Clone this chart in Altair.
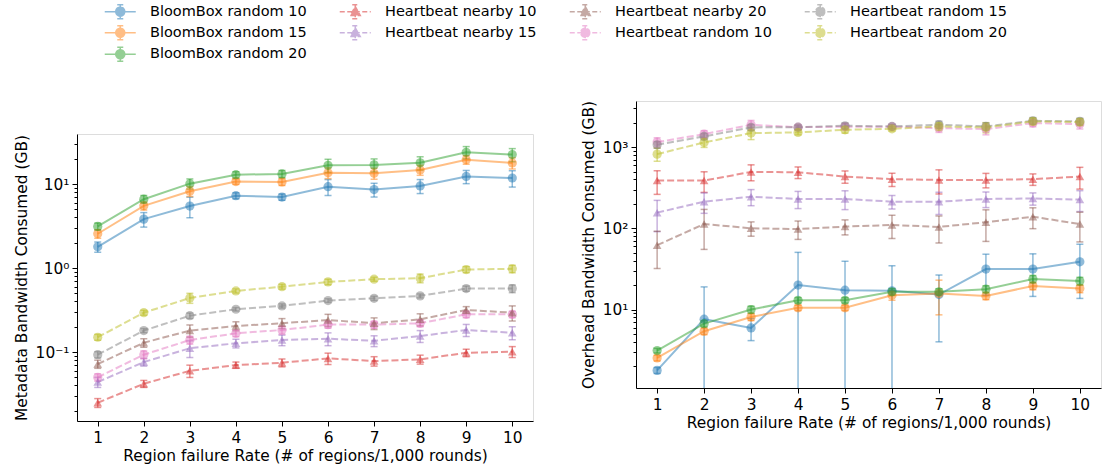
import altair as alt
import pandas as pd

# ---------------- data ----------------
series_names = ["BloomBox random 10", "BloomBox random 15", "BloomBox random 20",
                "Heartbeat nearby 10", "Heartbeat nearby 15", "Heartbeat nearby 20",
                "Heartbeat random 10", "Heartbeat random 15", "Heartbeat random 20"]
series_colors = ["#1f77b4", "#ff7f0e", "#2ca02c", "#d62728", "#9467bd", "#8c564b",
                 "#e377c2", "#7f7f7f", "#bcbd22"]
failure_rates = [1, 2, 3, 4, 5, 6, 7, 8, 9, 10]

meta_bb10 = [1.79, 3.82, 5.47, 7.26, 7.0, 9.3, 8.6, 9.5, 12.3, 11.8]
meta_bb15 = [2.56, 5.5, 8.2, 10.7, 10.6, 13.6, 13.4, 14.7, 19.5, 17.8]
meta_bb20 = [3.13, 6.6, 10.1, 12.9, 13.2, 16.7, 16.9, 17.9, 23.9, 22.4]
meta_hn10 = [0.0249, 0.0419, 0.0598, 0.070, 0.0746, 0.084, 0.078, 0.0818, 0.098, 0.101]
meta_hn15 = [0.0439, 0.076, 0.111, 0.127, 0.139, 0.144, 0.136, 0.155, 0.183, 0.170]
meta_hn20 = [0.072, 0.129, 0.180, 0.204, 0.220, 0.241, 0.220, 0.245, 0.317, 0.294]
meta_hr10 = [0.050, 0.093, 0.139, 0.167, 0.183, 0.212, 0.212, 0.220, 0.281, 0.281]
meta_hr15 = [0.093, 0.180, 0.271, 0.323, 0.354, 0.410, 0.436, 0.466, 0.569, 0.569]
meta_hr20 = [0.150, 0.294, 0.440, 0.534, 0.600, 0.684, 0.736, 0.757, 0.960, 0.978]

meta_err_bb10 = [0.25, 0.75, 1.5, 0.6, 0.6, 2.0, 1.6, 1.8, 2.2, 2.6]
meta_err_bb15 = [0.3, 0.6, 1.1, 0.8, 1.0, 2.0, 2.0, 2.0, 2.3, 2.7]
meta_err_bb20 = [0.3, 0.7, 1.4, 1.1, 1.3, 3.0, 3.0, 3.2, 4.0, 4.0]
meta_err_hn10 = [0.003, 0.004, 0.010, 0.006, 0.008, 0.013, 0.010, 0.010, 0.010, 0.015]
meta_err_hn15 = [0.006, 0.008, 0.025, 0.015, 0.020, 0.025, 0.020, 0.025, 0.030, 0.030]
meta_err_hn20 = [0.008, 0.015, 0.030, 0.025, 0.030, 0.040, 0.035, 0.040, 0.030, 0.060]
meta_err_hr10 = [0.005, 0.010, 0.015, 0.015, 0.020, 0.020, 0.020, 0.020, 0.025, 0.025]
meta_err_hr15 = [0.008, 0.010, 0.020, 0.015, 0.020, 0.020, 0.025, 0.025, 0.040, 0.060]
meta_err_hr20 = [0.012, 0.020, 0.060, 0.030, 0.040, 0.050, 0.040, 0.090, 0.080, 0.100]

over_bb10 = [1.78, 7.6, 5.94, 20.0, 17.3, 17.0, 15.3, 31.5, 31.5, 38.7]
over_bb15 = [2.53, 5.4, 8.1, 10.5, 10.5, 15.0, 15.8, 14.7, 19.5, 18.1]
over_bb20 = [3.12, 6.7, 10.0, 13.0, 13.0, 16.5, 16.5, 17.8, 23.7, 22.4]
over_hn10 = [387, 387, 495, 490, 434, 403, 395, 395, 403, 434]
over_hn15 = [156, 213, 245, 230, 230, 213, 213, 230, 233, 226]
over_hn20 = [62, 113, 100, 98, 105, 110, 104, 119, 139, 113]
over_hr10 = [1153, 1446, 1883, 1760, 1785, 1785, 1717, 1668, 1978, 1923]
over_hr15 = [1069, 1354, 1750, 1760, 1833, 1800, 1888, 1800, 2113, 2075]
over_hr20 = [820, 1142, 1489, 1517, 1636, 1683, 1800, 1750, 2075, 2037]

over_err_bb10 = [0.15, 11.4, 1.8, 30.6, 22.0, 17.5, 11.3, 16.5, 17.0, 25.0]
over_err_bb15 = [0.2, 0.5, 0.8, 0.8, 0.8, 2.0, 7.2, 1.5, 2.0, 2.0]
over_err_bb20 = [0.2, 0.6, 1.0, 1.0, 1.0, 1.5, 1.5, 1.8, 2.5, 2.5]
over_err_hn10 = [125, 110, 110, 80, 75, 75, 130, 80, 65, 130]
over_err_hn15 = [65, 60, 55, 55, 60, 40, 65, 50, 40, 65]
over_err_hn20 = [30, 58, 20, 25, 22, 35, 38, 50, 40, 45]
over_err_hr10 = [150, 150, 250, 120, 150, 120, 200, 250, 200, 250]
over_err_hr15 = [100, 120, 150, 100, 150, 100, 200, 200, 200, 200]
over_err_hr20 = [150, 150, 250, 100, 150, 100, 200, 250, 200, 200]

meta_means = [meta_bb10, meta_bb15, meta_bb20, meta_hn10, meta_hn15, meta_hn20, meta_hr10, meta_hr15, meta_hr20]
meta_errs = [meta_err_bb10, meta_err_bb15, meta_err_bb20, meta_err_hn10, meta_err_hn15, meta_err_hn20,
             meta_err_hr10, meta_err_hr15, meta_err_hr20]
over_means = [over_bb10, over_bb15, over_bb20, over_hn10, over_hn15, over_hn20, over_hr10, over_hr15, over_hr20]
over_errs = [over_err_bb10, over_err_bb15, over_err_bb20, over_err_hn10, over_err_hn15, over_err_hn20,
             over_err_hr10, over_err_hr15, over_err_hr20]


def build(means, errs):
    rows = []
    for name, ms, es in zip(series_names, means, errs):
        for x, m, e in zip(failure_rates, ms, es):
            rows.append({"series": name, "x": x, "mean": m, "err": e,
                         "kind": "dashed" if name.startswith("Heartbeat") else "solid",
                         "marker": "triangle" if "nearby" in name else "circle"})
    return pd.DataFrame(rows)


meta_df = build(meta_means, meta_errs)
over_df = build(over_means, over_errs)

# domain order chosen so the 4-column legend reads column-wise like the original
legend_order = [0, 7, 6, 3, 1, 8, 5, 4, 2]
color_domain = [series_names[i] for i in legend_order]
color_range = [series_colors[i] for i in legend_order]

FONT = "DejaVu Sans"
AX_FS = 15.4

CIRC = ("M-3.1,0L3.1,0M0,-1.4L0,1.4M-0.6,-1.4L0.6,-1.4M-0.6,1.4L0.6,1.4"
        "M0.9,0A0.9,0.9,0,1,1,-0.9,0A0.9,0.9,0,1,1,0.9,0Z")
TRI = ("M-3.1,0L3.1,0M0,-1.4L0,1.4M-0.6,-1.4L0.6,-1.4M-0.6,1.4L0.6,1.4"
       "M0,-1.0L1.0,0.75L-1.0,0.75Z")
legend_shapes = [TRI if "nearby" in s else CIRC for s in color_domain]
legend_dashes = [[5, 2.5] if s.startswith("Heartbeat") else [1, 0] for s in color_domain]

legend = alt.Legend(
    title=None, orient="none", legendX=36, legendY=3, columns=4,
    symbolSize=100, symbolStrokeWidth=1.5, symbolOpacity=0.5,
    labelFont=FONT, labelFontSize=14.5, labelColor="black", labelLimit=400,
    labelOffset=22.5, columnPadding=29, rowPadding=0.5,
)

color_scale = alt.Scale(domain=color_domain, range=color_range)

major_test = "abs(log(datum.value)/LN10 - round(log(datum.value)/LN10)) < 0.001"
exp_str = "(''+round(log(datum.value)/LN10))"
label_expr = (f"{major_test} ? '10' + replace(replace(replace(replace(replace({exp_str}, '-', '⁻'), "
              f"'0', '⁰'), '1', '¹'), '2', '²'), '3', '³') : ''")


def ticks_for(lo_exp, hi_exp):
    vals = []
    for e in range(lo_exp, hi_exp + 1):
        for m in range(1, 10):
            vals.append(round(m * 10 ** e, 6))
    return vals


def panel(df, ytitle, ydomain, tickvals, width, with_legend=False):
    yscale = alt.Scale(type="log", domain=ydomain, nice=False)
    yaxis = alt.Axis(title=ytitle, values=tickvals, labelExpr=label_expr, grid=False,
                     tickSize={"condition": {"test": major_test, "value": 5}, "value": 3},
                     domainColor="black", tickColor="black", labelColor="black", titleColor="black",
                     labelFont=FONT, titleFont=FONT, labelFontSize=AX_FS, titleFontSize=AX_FS,
                     titleFontWeight="normal", titlePadding=6, labelPadding=3, labelOverlap=False)
    xscale = alt.Scale(domain=[0.55, 10.45], nice=False, zero=False)
    xaxis = alt.Axis(title="Region failure Rate (# of regions/1,000 rounds)", values=failure_rates,
                     grid=False, tickSize=5, domainColor="black", tickColor="black",
                     labelColor="black", titleColor="black", labelFont=FONT, titleFont=FONT,
                     labelFontSize=AX_FS, titleFontSize=AX_FS, titleFontWeight="normal",
                     labelFlush=False, titlePadding=3, labelPadding=4, format="d")
    leg = legend if with_legend else None
    base = alt.Chart(df).transform_calculate(
        lo="max(datum.mean - datum.err, 0.0001)", hi="datum.mean + datum.err"
    ).encode(x=alt.X("x:Q", scale=xscale, axis=xaxis),
             color=alt.Color("series:N", scale=color_scale, legend=leg))

    rules = base.mark_rule(strokeWidth=1.5, opacity=0.5, clip=True).encode(
        y=alt.Y("lo:Q", scale=yscale, axis=yaxis), y2="hi:Q")
    caps = base.transform_fold(["lo", "hi"], as_=["end", "endval"]).mark_tick(
        orient="horizontal", size=7, thickness=1.5, opacity=0.5, clip=True).encode(
        y=alt.Y("endval:Q", scale=yscale, axis=yaxis))
    solid = base.transform_filter("datum.kind == 'solid'").mark_line(
        strokeWidth=2, opacity=0.5, clip=True).encode(y=alt.Y("mean:Q", scale=yscale, axis=yaxis), order="x:Q")
    dashed = base.transform_filter("datum.kind == 'dashed'").mark_line(
        strokeWidth=2, opacity=0.5, clip=True, strokeDash=[7, 3]).encode(
        y=alt.Y("mean:Q", scale=yscale, axis=yaxis), order="x:Q")
    circ = base.transform_filter("datum.marker == 'circle'").mark_point(
        filled=True, size=85, opacity=0.5, shape="circle", clip=True).encode(
        y=alt.Y("mean:Q", scale=yscale, axis=yaxis))
    tri = base.transform_filter("datum.marker == 'triangle'").mark_point(
        filled=True, size=75, opacity=0.5, shape="triangle-up", clip=True).encode(
        y=alt.Y("mean:Q", scale=yscale, axis=yaxis))
    layers = [rules, caps, solid, dashed, circ, tri]
    if with_legend:
        legl = base.transform_filter("datum.x > 100").mark_point(
            size=100, strokeWidth=1.5, opacity=0.5, filled=True).encode(
            y=alt.Y("mean:Q", scale=yscale, axis=yaxis),
            shape=alt.Shape("series:N", scale=alt.Scale(domain=color_domain, range=legend_shapes), legend=legend),
            strokeDash=alt.StrokeDash("series:N", scale=alt.Scale(domain=color_domain, range=legend_dashes),
                                      legend=legend),
        )
        layers.append(legl)
    return alt.layer(*layers).properties(width=width, height=287)


def spacer(width, height):
    return alt.Chart(pd.DataFrame({"v": [0]})).mark_point(opacity=0).encode(
        x=alt.X("v:Q", axis=None), y=alt.Y("v:Q", axis=None)
    ).properties(width=width, height=height, view=alt.ViewBackground(stroke="transparent"))


left = panel(meta_df, "Metadata Bandwidth Consumed (GB)", [0.0151, 39.4], ticks_for(-2, 1), 456, with_legend=True)
right = panel(over_df, "Overhead Bandwidth Consumed (GB)", [1.08, 3700], ticks_for(0, 3), 465)

left_col = alt.vconcat(spacer(456, 131), left, spacing=0)
right_col = alt.vconcat(spacer(465, 97), right, spacing=0)

chart = alt.hconcat(left_col, right_col, spacing=46).properties(
    padding={"left": 13, "top": 0, "right": 5, "bottom": 2}
).configure_view(stroke="#222", strokeWidth=1).configure(font=FONT)

chart.save("out.html", embed_options={"renderer": "svg", "actions": False})
